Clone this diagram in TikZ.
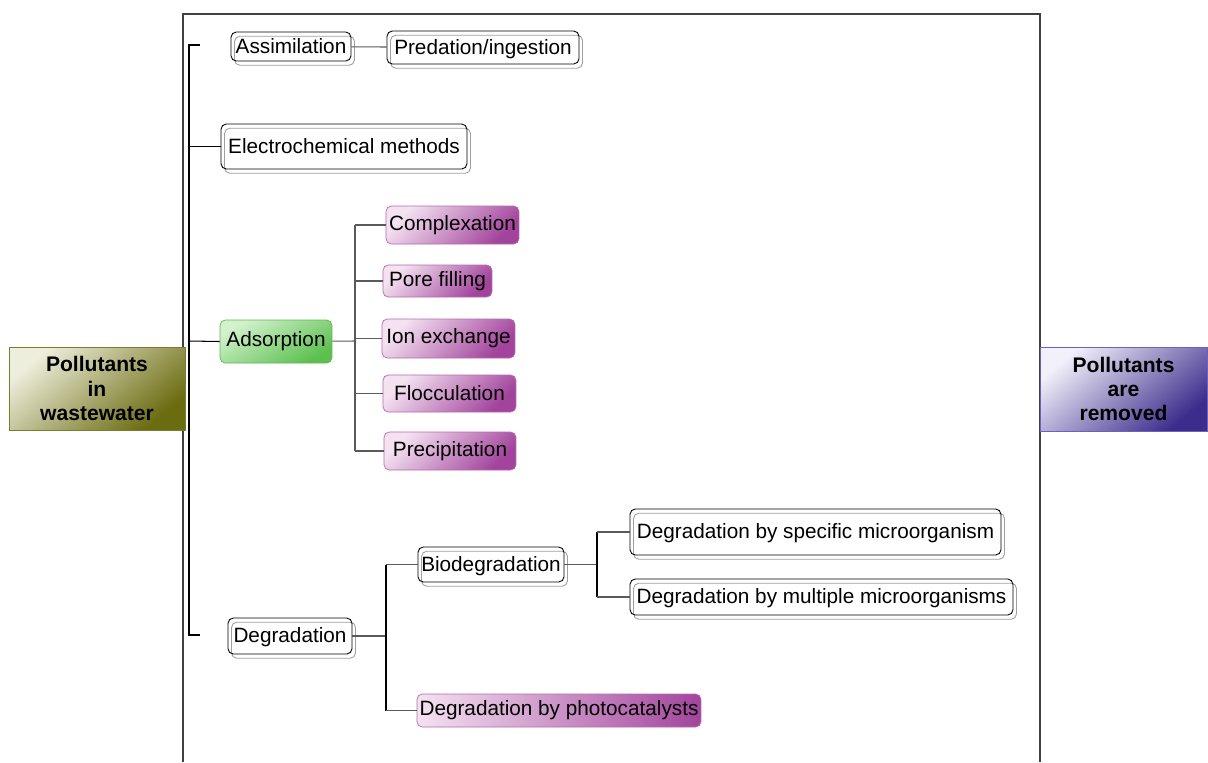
\documentclass[tikz,border=0pt]{standalone}
\usepackage{fontspec}
\setmainfont{Liberation Sans}
\usepackage{xcolor}
\definecolor{pinklite}{HTML}{F4E2F1}
\definecolor{pinkdark}{HTML}{A2449C}
\definecolor{pinkedge}{HTML}{B56AB0}
\definecolor{greenlite}{HTML}{D2F2CC}
\definecolor{greendark}{HTML}{5CBF50}
\definecolor{greenedge}{HTML}{62B456}
\definecolor{olivelite}{HTML}{EEEEDC}
\definecolor{olivedark}{HTML}{6B6B10}
\definecolor{oliveedge}{HTML}{7C7C2E}
\definecolor{bluelite}{HTML}{F2F0FA}
\definecolor{bluedark}{HTML}{3C2D8C}
\definecolor{blueedge}{HTML}{6E60C0}
\definecolor{twiggray}{HTML}{5A5A5A}

\begin{document}
\begin{tikzpicture}[
x=0.02cm,y=-0.02cm,
font=\fontsize{11.8}{13.5}\selectfont,
box/.style={rectangle,rounded corners=3pt,inner sep=1pt,align=center},
dbox/.style={box,draw=black,line width=0.5pt,text height=1.0em,text depth=0.22em,
  preaction={draw=gray!75,transform canvas={shift={(2pt,-2.4pt)}}}},
pbox/.style={box,draw=pinkedge,top color=pinklite,bottom color=pinkdark,shading angle=45},
gbox/.style={box,draw=greenedge,top color=greenlite,bottom color=greendark,shading angle=30},
endbox/.style={rectangle,draw,inner sep=1pt,align=center,font=\fontsize{12}{13.8}\selectfont\bfseries},
twig/.style={draw=twiggray,line width=0.6pt},
bar/.style={draw=black,line width=1.4pt}
]
\useasboundingbox (0,0) rectangle (1208,762);
\fill[white] (0,0) rectangle (1208,762);
% frame
\draw[black!75,line width=0.6pt] (183,762) |- (1040,14) -- (1040,762);

% end boxes
\node[endbox,draw=oliveedge,top color=olivelite,bottom color=olivedark,shading angle=40,
  minimum width=3.52cm,minimum height=1.66cm] (src) at (97,388.5) {Pollutants\\in\\wastewater};
\node[endbox,draw=blueedge,top color=bluelite,bottom color=bluedark,shading angle=40,
  minimum width=3.34cm,minimum height=1.68cm] (dst) at (1123.5,389) {Pollutants\\are\\removed};

% first level
\node[dbox,minimum width=2.40cm,minimum height=0.58cm] (assim) at (291,46.5) {Assimilation};
\node[dbox,minimum width=3.84cm,minimum height=0.66cm] (pred) at (483,47.5) {Predation/ingestion};
\node[dbox,minimum width=4.92cm,minimum height=0.90cm] (elec) at (344,146.5) {Electrochemical methods};
\node[gbox,minimum width=2.24cm,minimum height=0.86cm] (ads) at (276,341.5) {Adsorption};
\node[dbox,minimum width=2.48cm,minimum height=0.72cm] (deg) at (290,636) {Degradation};

% adsorption
\node[pbox,minimum width=2.66cm,minimum height=0.76cm] (cplx) at (452.5,225) {Complexation};
\node[pbox,minimum width=2.18cm,minimum height=0.64cm] (pore) at (437.5,281) {Pore filling};
\node[pbox,minimum width=2.66cm,minimum height=0.78cm] (ionx) at (448.5,338.5) {Ion exchange};
\node[pbox,minimum width=2.66cm,minimum height=0.74cm] (floc) at (449.5,393.5) {Flocculation};
\node[pbox,minimum width=2.64cm,minimum height=0.76cm] (prec) at (450,451) {Precipitation};

% degradation
\node[dbox,minimum width=2.92cm,minimum height=0.70cm] (bio) at (491,564.5) {Biodegradation};
\node[box,draw=pinkedge,left color=pinklite,right color=pinkdark,
  minimum width=5.68cm,minimum height=0.66cm] (photo) at (559,710.5) {Degradation by photocatalysts};
\node[dbox,minimum width=7.42cm,minimum height=0.92cm] (spec) at (815.5,532) {Degradation by specific microorganism};
\node[dbox,minimum width=7.66cm,minimum height=0.72cm] (mult) at (821.5,597) {Degradation by multiple microorganisms};

% main bracket
\coordinate (sptop) at (200,45);
\coordinate (spbot) at (200,635);
\coordinate (spx) at (189,341);
\draw[bar] (sptop) -- ++(-11,0) |- (spbot);
\draw[black,line width=0.6pt] (spx |- elec.west) -- (elec.west);
\draw[black,line width=0.6pt] (spx) -- (ads.west);

\draw[twig] (assim) -- (pred);

% adsorption branches
\coordinate (adsj) at (355,341);
\draw[twig] (ads) -- (adsj);
\draw[twig] (adsj |- cplx.west) -- (adsj |- prec.west);
\foreach \n in {cplx,pore,ionx,floc,prec}
  \draw[twig] (adsj |- \n.west) -- (\n.west);

% degradation branches
\coordinate (degj) at (386,636);
\draw[twig] (deg) -- (degj);
\draw[bar] (degj |- bio.west) -- (degj |- photo.west);
\draw[twig] (degj |- bio.west) -- (bio.west);
\draw[twig] (degj |- photo.west) -- (photo.west);

\coordinate (bioj) at (597,564.5);
\draw[twig] (bio) -- (bioj);
\draw[bar] (bioj |- spec.west) -- (bioj |- mult.west);
\draw[twig] (bioj |- spec.west) -- (spec.west);
\draw[twig] (bioj |- mult.west) -- (mult.west);
\end{tikzpicture}
\end{document}
